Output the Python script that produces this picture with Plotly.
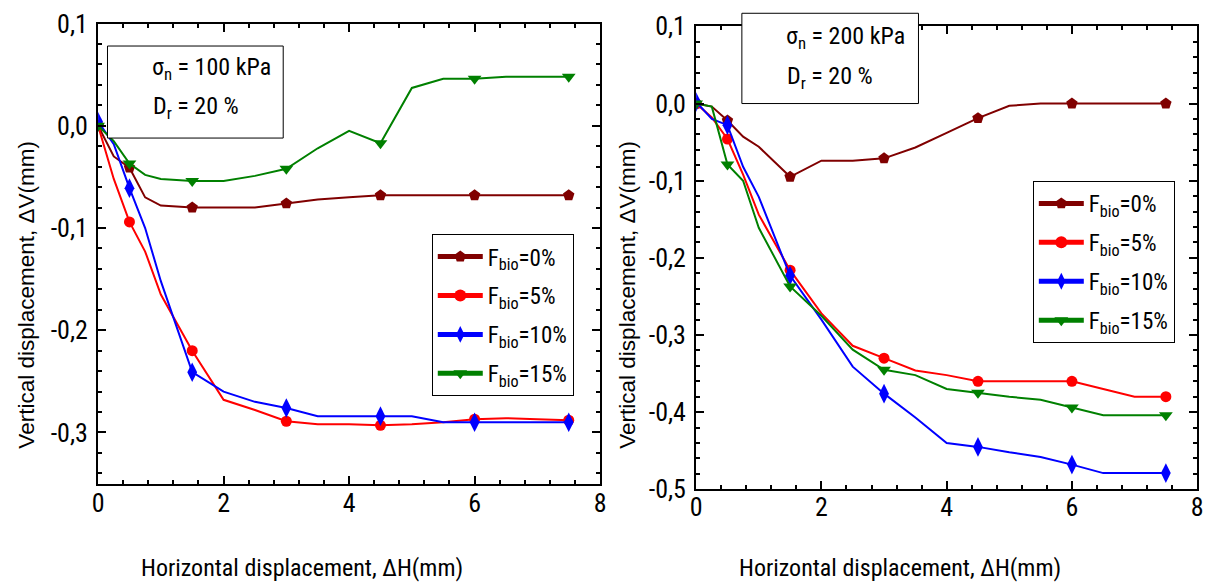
import plotly.graph_objects as go

W, H = 1221, 584

# ---------------- data ----------------
x_disp = [0, 0.25, 0.5, 0.75, 1.0, 1.5, 2.0, 2.5, 3.0, 3.5, 4.0, 4.5, 5.0, 5.5, 6.0, 6.5, 7.0, 7.5]
marker_x = [0, 0.5, 1.5, 3.0, 4.5, 6.0, 7.5]

series_names = ["F<sub>bio</sub>=0%", "F<sub>bio</sub>=5%", "F<sub>bio</sub>=10%", "F<sub>bio</sub>=15%"]

# sigma_n = 100 kPa
left_f0 = [0, -0.030, -0.041, -0.070, -0.078, -0.080, -0.080, -0.080, -0.076, -0.072, -0.070, -0.068,
           -0.068, -0.068, -0.068, -0.068, -0.068, -0.068]
left_f5 = [0, -0.052, -0.094, -0.123, -0.165, -0.220, -0.268, -0.278, -0.289, -0.292, -0.292, -0.293,
           -0.292, -0.290, -0.287, -0.286, -0.287, -0.288]
left_f10 = [0.004, -0.018, -0.061, -0.100, -0.152, -0.241, -0.260, -0.270, -0.276, -0.284, -0.284, -0.284,
            -0.284, -0.290, -0.290, -0.290, -0.290, -0.290]
left_f15 = [0, -0.015, -0.037, -0.048, -0.052, -0.054, -0.054, -0.049, -0.042, -0.022, -0.005, -0.017,
            0.037, 0.046, 0.046, 0.048, 0.048, 0.048]

# sigma_n = 200 kPa
right_f0 = [0, -0.004, -0.022, -0.043, -0.056, -0.095, -0.074, -0.074, -0.071, -0.057, -0.038, -0.019,
            -0.003, 0, 0, 0, 0, 0]
right_f5 = [0, -0.018, -0.046, -0.092, -0.144, -0.216, -0.272, -0.314, -0.330, -0.346, -0.352, -0.360,
            -0.360, -0.360, -0.360, -0.370, -0.380, -0.380]
right_f10 = [0.002, -0.020, -0.028, -0.082, -0.121, -0.223, -0.280, -0.341, -0.376, -0.407, -0.440, -0.445,
             -0.452, -0.458, -0.468, -0.479, -0.479, -0.479]
right_f15 = [0, -0.004, -0.079, -0.100, -0.161, -0.237, -0.275, -0.319, -0.345, -0.352, -0.370, -0.375,
             -0.380, -0.384, -0.394, -0.404, -0.404, -0.404]

x_tick_vals = [0, 2, 4, 6, 8]
x_tick_text = ["0", "2", "4", "6", "8"]
left_y_tick_vals = [0.1, 0.0, -0.1, -0.2, -0.3]
left_y_tick_text = ["0,1", "0,0", "-0,1", "-0,2", "-0,3"]
right_y_tick_vals = [0.1, 0.0, -0.1, -0.2, -0.3, -0.4, -0.5]
right_y_tick_text = ["0,1", "0,0", "-0,1", "-0,2", "-0,3", "-0,4", "-0,5"]

left_box_text = ["σ<sub>n</sub> = 100 kPa", "D<sub>r</sub> = 20 %"]
right_box_text = ["σ<sub>n</sub> = 200 kPa", "D<sub>r</sub> = 20 %"]
x_title = "Horizontal displacement, ΔH(mm)"
y_title = "Vertical displacement, ΔV(mm)"

# ---------------- styles ----------------
colors = ["#800000", "#FF0000", "#0000FF", "#008000"]
symbols = ["pentagon", "circle", "diamond-tall", "triangle-down"]
msizes = [12, 11, 14, 12]

NARROW = "Liberation Sans Narrow, Arial Narrow, Roboto Condensed, Liberation Sans, Arial, sans-serif"
REGULAR = "Liberation Sans, Arial, sans-serif"

x_range = [0, 8]
left_y_range = [-0.35, 0.1]
right_y_range = [-0.5, 0.1]

left_xdom = [93 / W, 600 / W]
right_xdom = [697 / W, 1203 / W]
left_ydom = [1 - 494 / H, 1 - 9 / H]
right_ydom = [1 - 500 / H, 1 - 12 / H]


def to_paper(xv, yv, xdom, ydom, yr):
    px = xdom[0] + (xv - x_range[0]) / (x_range[1] - x_range[0]) * (xdom[1] - xdom[0])
    py = ydom[0] + (yv - yr[0]) / (yr[1] - yr[0]) * (ydom[1] - ydom[0])
    return px, py


fig = go.Figure()

panels = [
    ("x", "y", "legend", [left_f0, left_f5, left_f10, left_f15]),
    ("x2", "y2", "legend2", [right_f0, right_f5, right_f10, right_f15]),
]
for xa, ya, lg, ys in panels:
    for i, yv in enumerate(ys):
        sizes = [msizes[i] if xv in marker_x else 0 for xv in x_disp]
        fig.add_trace(go.Scatter(
            x=x_disp, y=yv, xaxis=xa, yaxis=ya,
            mode="lines+markers", name=series_names[i],
            line=dict(color=colors[i], width=2),
            marker=dict(symbol=symbols[i], size=sizes, color=colors[i], opacity=1, line=dict(width=0)),
            legend=lg, legendgroup=lg + str(i), showlegend=True,
        ))


def axis_common(domain, anchor):
    return dict(
        domain=domain, anchor=anchor, showline=True, linewidth=2, linecolor="black",
        mirror="ticks", ticks="inside", ticklen=8, tickwidth=2, tickcolor="black",
        showgrid=False, zeroline=False, tickmode="array", ticklabeloverflow="allow",
        tickfont=dict(family=NARROW, size=26, color="black"),
    )


minor_x = dict(tick0=0, dtick=0.4, ticks="inside", ticklen=4, tickwidth=1.5, tickcolor="black")
minor_y = dict(tick0=0, dtick=0.02, ticks="inside", ticklen=4, tickwidth=1.5, tickcolor="black")

xa1 = axis_common(left_xdom, "y")
xa1.update(range=x_range, tickvals=x_tick_vals, ticktext=x_tick_text, ticklabelstandoff=-5, minor=minor_x)
xa2 = axis_common(right_xdom, "y2")
xa2.update(range=x_range, tickvals=x_tick_vals, ticktext=x_tick_text, ticklabelstandoff=-7, minor=minor_x)
ya1 = axis_common(left_ydom, "x")
ya1.update(range=left_y_range, tickvals=left_y_tick_vals, ticktext=left_y_tick_text, ticklabelstandoff=3,
           minor=minor_y)
ya2 = axis_common(right_ydom, "x2")
ya2.update(range=right_y_range, tickvals=right_y_tick_vals, ticktext=right_y_tick_text, ticklabelstandoff=3,
           minor=minor_y)

shapes = []
annotations = []

# annotation boxes (positions in data units converted to paper)
boxes = [
    (left_box_text, (0.15, -0.012), (2.95, 0.078), (0.83, 0.0556), (0.84, 0.0175), left_xdom, left_ydom, left_y_range),
    (right_box_text, (0.73, 0.0), (3.55, 0.117), (1.40, 0.085), (1.42, 0.034), right_xdom, right_ydom, right_y_range),
]
for texts, p0, p1, t0, t1, xd, yd, yr in boxes:
    x0, y0 = to_paper(p0[0], p0[1], xd, yd, yr)
    x1, y1 = to_paper(p1[0], p1[1], xd, yd, yr)
    shapes.append(dict(type="rect", xref="paper", yref="paper", x0=x0, y0=y0, x1=x1, y1=y1,
                       fillcolor="white", line=dict(color="black", width=1), layer="above"))
    for txt, tp in zip(texts, [t0, t1]):
        ax, ay = to_paper(tp[0], tp[1], xd, yd, yr)
        annotations.append(dict(text=txt, xref="paper", yref="paper", x=ax, y=ay, xanchor="left",
                                yanchor="middle", showarrow=False,
                                font=dict(family=NARROW, size=24, color="black")))

# axis titles
for cx in [299, 903]:
    annotations.append(dict(text=x_title, xref="paper", yref="paper", x=cx / W, y=1 - 583 / H,
                            xanchor="center", yanchor="middle", showarrow=False,
                            font=dict(family=NARROW, size=24, color="black")))
for cx in [21, 628]:
    annotations.append(dict(text=y_title, xref="paper", yref="paper", x=cx / W, y=1 - 295 / H,
                            xanchor="center", yanchor="middle", showarrow=False, textangle=-90,
                            font=dict(family=REGULAR, size=22.5, color="black")))

legend_style = dict(
    bgcolor="white", bordercolor="black", borderwidth=1, xanchor="left", yanchor="top",
    font=dict(family=NARROW, size=23, color="black"), itemsizing="constant", itemwidth=45,
    traceorder="grouped", tracegroupgap=6, xref="paper", yref="paper",
)

fig.update_layout(
    width=W, height=H, margin=dict(l=0, r=0, t=0, b=0),
    paper_bgcolor="white", plot_bgcolor="white",
    xaxis=xa1, yaxis=ya1, xaxis2=xa2, yaxis2=ya2,
    shapes=shapes, annotations=annotations,
    legend=dict(legend_style, x=430 / W, y=1 - 231 / H),
    legend2=dict(legend_style, x=1037 / W, y=1 - 175 / H),
    separators=",.",
)

fig.write_html("out.html")
